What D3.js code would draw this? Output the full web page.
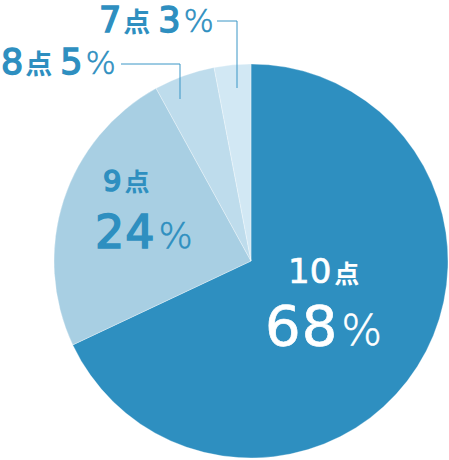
<!DOCTYPE html>
<html lang="ja">
<head>
<meta charset="utf-8">
<title>得点分布</title>
<script src="https://d3js.org/d3.v7.min.js"></script>
<style>
  body { margin: 0; background: #fff; }
  .num { font-family: "DejaVu Sans", sans-serif; font-weight: 400; }
  .kanji { font-family: "Noto Sans CJK JP", sans-serif; font-weight: 700; }
  .pct { font-family: "DejaVu Sans", sans-serif; font-weight: 300; }
</style>
</head>
<body>
<div id="chart"></div>
<script>
// data
const scores = [10, 9, 8, 7];
const shares = [68, 24, 5, 3];
const unit = "点";

const size = { width: 449, height: 460 };
const center = { x: 251, y: 261 };
const radius = 197;
const colors = ["#2e8fc0", "#a8cfe3", "#bedcec", "#d2e8f4"];
const textBlue = "#2e8fc0";

// label layout: inside labels are two lines, outside ones one line + leader
const layout = [
  { inside: true, fill: "#fff", x1: 288, y1: 283, s1: 34, k1: 25, x2: 265, y2: 345, s2: 56, p2: 43, sw: 0.7 },
  { inside: true, fill: textBlue, x1: 103, y1: 191, s1: 29, k1: 25, x2: 95, y2: 248, s2: 46, p2: 36, sw: 1.6 },
  { inside: false, x: 1, y: 74, s: 35, k: 27, p: 32, sw: 1.4, lead: [[121, 64], [180, 64], [180, 99]] },
  { inside: false, x: 99, y: 32, s: 35, k: 27, p: 32, sw: 1.4, lead: [[217, 21], [237, 21], [237, 88]] }
];

const svg = d3.select("#chart").append("svg")
  .attr("width", size.width)
  .attr("height", size.height);

const pie = d3.pie().sort(null).value(d => d)(shares);
const arc = d3.arc().innerRadius(0).outerRadius(radius);

const g = svg.append("g").attr("transform", `translate(${center.x},${center.y})`);
g.selectAll("path")
  .data(pie)
  .join("path")
  .attr("d", arc)
  .attr("fill", (d, i) => colors[i])
  .attr("stroke", "#fff")
  .attr("stroke-opacity", 0.5)
  .attr("stroke-width", 0.6);

// leader lines
layout.forEach((l, i) => {
  if (l.inside) return;
  svg.append("polyline")
    .attr("points", l.lead.map(p => p.join(",")).join(" "))
    .attr("fill", "none")
    .attr("stroke", "#3b96c6")
    .attr("stroke-width", 1);
});

// digits get a thin stroke of their own colour to thicken them a bit
let digits = (sel, fontSize, col, sw) => sel.append("tspan")
  .attr("class", "num")
  .style("font-size", fontSize + "px")
  .attr("stroke", col)
  .attr("stroke-width", sw);

let percent = (sel, fontSize, col) => sel.append("tspan")
  .attr("class", "pct")
  .attr("dx", 3)
  .style("font-size", fontSize + "px")
  .attr("stroke", col)
  .attr("stroke-width", 0.5)
  .text("%");

// labels
layout.forEach((l, i) => {
  if (l.inside) {
    const t1 = svg.append("text").attr("x", l.x1).attr("y", l.y1).attr("fill", l.fill);
    digits(t1, l.s1, l.fill, l.sw).text(scores[i]);
    t1.append("tspan").attr("class", "kanji").attr("dx", 3).style("font-size", l.k1 + "px").text(unit);
    const t2 = svg.append("text").attr("x", l.x2).attr("y", l.y2).attr("fill", l.fill);
    digits(t2, l.s2, l.fill, l.sw).attr("letter-spacing", 1).text(shares[i]);
    percent(t2, l.p2, l.fill);
  } else {
    const t = svg.append("text").attr("x", l.x).attr("y", l.y).attr("fill", textBlue);
    digits(t, l.s, textBlue, l.sw).text(scores[i]);
    t.append("tspan").attr("class", "kanji").attr("dx", 2).style("font-size", l.k + "px").text(unit);
    digits(t, l.s, textBlue, l.sw).attr("dx", 8).text(shares[i]);
    percent(t, l.p, textBlue);
  }
});
</script>
</body>
</html>
